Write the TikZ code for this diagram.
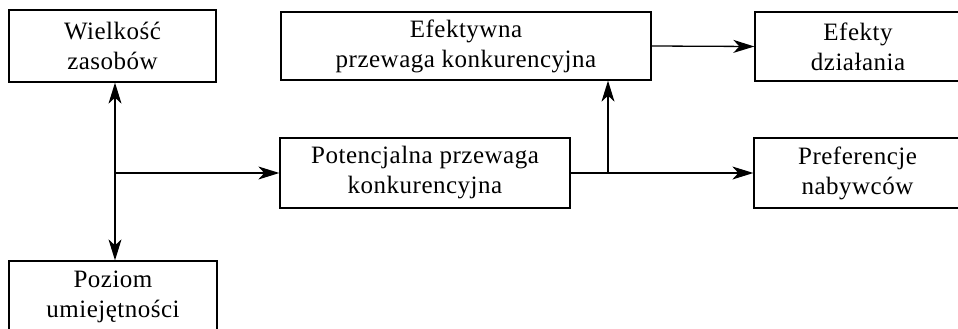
\documentclass[tikz,border=0pt]{standalone}
\usepackage{fontspec}
\setmainfont[LetterSpace=2]{Liberation Serif}
\usetikzlibrary{arrows.meta}
\tikzset{
  box/.style={draw, line width=1.3pt, align=center, inner sep=0pt,
    font=\fontsize{25}{30}\selectfont},
  conn/.style={line width=1.3pt, -{Stealth[length=21pt,width=13pt,inset=6pt]}},
  dconn/.style={line width=1.3pt, {Stealth[length=21pt,width=13pt,inset=6pt]}-{Stealth[length=21pt,width=13pt,inset=6pt]}}
}
\begin{document}
\begin{tikzpicture}[x=1pt,y=-1pt]
\useasboundingbox (0,0) rectangle (958,329);
\clip (0,0) rectangle (958,329);
\node[box, minimum width=207pt, minimum height=72pt] (A) at (112.5,46) {Wielkość\\zasobów};
\node[box, minimum width=208pt, minimum height=72pt] (B) at (113,297) {Poziom\\umiejętności};
\node[box, minimum width=370pt, minimum height=68pt] (C) at (466,46) {Efektywna\\przewaga konkurencyjna};
\node[box, minimum width=206pt, minimum height=69pt] (D) at (858,46.5) {Efekty\\działania};
\node[box, minimum width=290pt, minimum height=70pt] (E) at (425,173) {Potencjalna przewaga\\konkurencyjna};
\node[box, minimum width=207pt, minimum height=70pt] (F) at (857.5,173) {Preferencje\\nabywców};
\coordinate (j1) at (115,173);
\coordinate (j2) at (608,173);
\draw[dconn] (A.south -| j1) -- (B.north -| j1);
\draw[conn] (j1) -- (E.west);
\draw[conn] (E.east) -- (F.west);
\draw[conn] (j2) -- (C.south -| j2);
\draw[conn] (C.east) -- (D.west);
\end{tikzpicture}
\end{document}
